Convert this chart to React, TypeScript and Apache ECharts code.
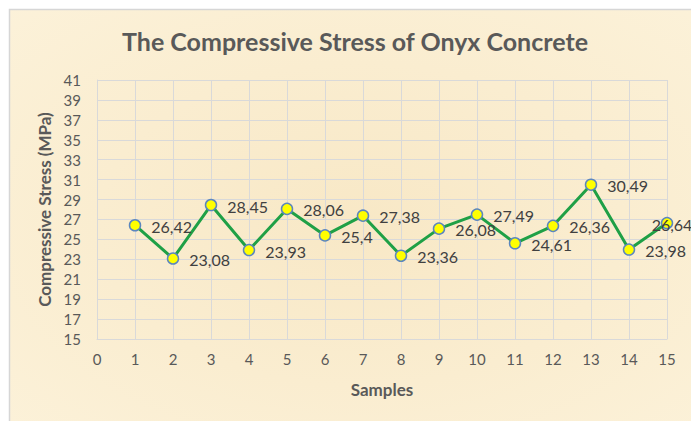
import React, { useEffect, useRef } from "react";
import * as echarts from "echarts";

const samples = [1, 2, 3, 4, 5, 6, 7, 8, 9, 10, 11, 12, 13, 14, 15];
const stress = [26.42, 23.08, 28.45, 23.93, 28.06, 25.4, 27.38, 23.36, 26.08, 27.49, 24.61, 26.36, 30.49, 23.98, 26.64];
const titleText = "The Compressive Stress of Onyx Concrete";
const xName = "Samples";
const yName = "Compressive Stress (MPa)";

export default function App() {
  const ref = useRef<HTMLDivElement>(null);
  useEffect(() => {
    if (!ref.current) return;
    const chart = echarts.init(ref.current, undefined, { renderer: "svg" });
    const font = "Lato, 'Open Sans', sans-serif";
    const last = samples.length - 1;
    chart.setOption({
      animation: false,
      graphic: [
        {
          type: "rect",
          z: -10,
          silent: true,
          shape: { x: 9.5, y: 9.5, width: 700, height: 430 },
          style: {
            fill: {
              type: "radial",
              x: 0.5,
              y: 0.5,
              r: 0.75,
              colorStops: [
                { offset: 0, color: "#F8E8C6" },
                { offset: 1, color: "#FCF2DA" },
              ],
            },
            stroke: "#D6D6D6",
            lineWidth: 1.5,
          },
        },
        {
          type: "text",
          x: 355,
          y: 41,
          style: {
            text: titleText,
            fontFamily: font,
            fontSize: 25,
            fontWeight: "bold",
            fill: "#595959",
            textAlign: "center",
            textVerticalAlign: "middle",
          },
        },
      ],
      grid: { left: 97, right: 24, top: 80, bottom: 82 },
      xAxis: {
        type: "value",
        min: 0,
        max: 15,
        interval: 1,
        name: xName,
        nameLocation: "middle",
        nameGap: 42,
        nameTextStyle: { fontFamily: font, fontSize: 17, fontWeight: "bold", color: "#595959" },
        axisLine: { show: true, lineStyle: { color: "#D9D9D9", width: 1 } },
        axisTick: { show: false },
        axisLabel: { fontFamily: font, fontSize: 15, color: "#595959", margin: 12 },
        splitLine: { show: true, lineStyle: { color: "#D9D9D9", width: 1 } },
      },
      yAxis: {
        type: "value",
        min: 15,
        max: 41,
        interval: 2,
        name: yName,
        nameLocation: "middle",
        nameGap: 44,
        nameTextStyle: { fontFamily: font, fontSize: 17, fontWeight: "bold", color: "#595959" },
        axisLine: { show: true, lineStyle: { color: "#D9D9D9", width: 1 } },
        axisTick: { show: false },
        axisLabel: { fontFamily: font, fontSize: 15, color: "#595959", margin: 16 },
        splitLine: { show: true, lineStyle: { color: "#D9D9D9", width: 1 } },
      },
      series: [
        {
          type: "line",
          data: samples.map((s, i) => {
            const item: any = { value: [s, stress[i]] };
            if (i === last) {
              item.label = { position: "inside", offset: [5, 1] };
            }
            return item;
          }),
          lineStyle: { color: "#1FA046", width: 3 },
          itemStyle: { color: "#FFFF00", borderColor: "#5B86BE", borderWidth: 1.5 },
          symbol: "circle",
          symbolSize: 11,
          label: {
            show: true,
            position: "right",
            distance: 10,
            offset: [0, 1],
            fontFamily: font,
            fontSize: 16,
            color: "#404040",
            formatter: (p: any) => String(p.value[1]).replace(".", ","),
          },
        },
      ],
    });
    return () => chart.dispose();
  }, []);
  return (
    <div style={{ position: "absolute", left: 0, top: 0, width: 691, height: 421, background: "#fff", overflow: "hidden" }}>
      <div ref={ref} style={{ width: 691, height: 421 }} />
    </div>
  );
}
